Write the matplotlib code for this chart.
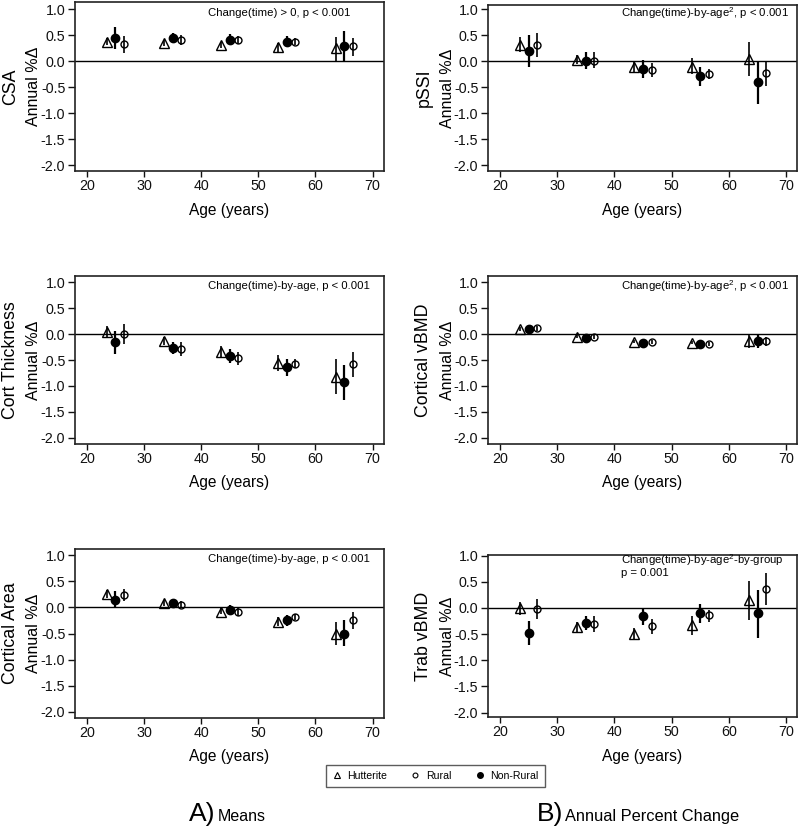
import matplotlib
matplotlib.use("Agg")
import matplotlib.pyplot as plt
from matplotlib.lines import Line2D

plt.rcParams['font.family'] = ['Liberation Sans', 'DejaVu Sans']
plt.rcParams['mathtext.fontset'] = 'custom'
plt.rcParams['mathtext.rm'] = 'Liberation Sans'
plt.rcParams['mathtext.it'] = 'Liberation Sans'

# ---------------- data ----------------
ages = [25, 35, 45, 55, 65]
groups = ['Hutterite', 'Rural', 'Non-Rural']
x_ticks = [20, 30, 40, 50, 60, 70]
y_ticks = [1.0, 0.5, 0.0, -0.5, -1.0, -1.5, -2.0]

panel_labels = ['CSA', 'pSSI', 'Cort Thickness', 'Cortical vBMD', 'Cortical Area', 'Trab vBMD']
panel_notes = ['Change(time) > 0, p < 0.001',
               'Change(time)-by-age$^2$, p < 0.001',
               'Change(time)-by-age, p < 0.001',
               'Change(time)-by-age$^2$, p < 0.001',
               'Change(time)-by-age, p < 0.001',
               'Change(time)-by-age$^2$-by-group\np = 0.001']

# CSA
csa_hut = [0.37, 0.34, 0.30, 0.27, 0.25]
csa_hut_lo = [0.30, 0.28, 0.25, 0.17, 0.00]
csa_hut_hi = [0.45, 0.40, 0.36, 0.34, 0.47]
csa_non = [0.45, 0.44, 0.41, 0.36, 0.29]
csa_non_lo = [0.23, 0.36, 0.32, 0.27, 0.00]
csa_non_hi = [0.66, 0.54, 0.52, 0.48, 0.58]
csa_rur = [0.33, 0.40, 0.41, 0.37, 0.28]
csa_rur_lo = [0.16, 0.30, 0.33, 0.30, 0.10]
csa_rur_hi = [0.48, 0.50, 0.49, 0.45, 0.45]

# pSSI
pssi_hut = [0.31, 0.03, -0.11, -0.11, 0.04]
pssi_hut_lo = [0.17, -0.05, -0.20, -0.24, -0.29]
pssi_hut_hi = [0.46, 0.12, -0.02, 0.05, 0.37]
pssi_non = [0.19, 0.01, -0.15, -0.29, -0.41]
pssi_non_lo = [-0.11, -0.15, -0.32, -0.47, -0.83]
pssi_non_hi = [0.50, 0.17, 0.02, -0.12, 0.00]
pssi_rur = [0.31, 0.01, -0.17, -0.25, -0.23]
pssi_rur_lo = [0.07, -0.13, -0.31, -0.34, -0.48]
pssi_rur_hi = [0.54, 0.17, -0.03, -0.16, 0.00]

# Cort Thickness
ct_hut = [0.04, -0.14, -0.34, -0.56, -0.82]
ct_hut_lo = [-0.08, -0.22, -0.44, -0.72, -1.16]
ct_hut_hi = [0.16, -0.06, -0.23, -0.40, -0.48]
ct_non = [-0.16, -0.26, -0.42, -0.64, -0.93]
ct_non_lo = [-0.38, -0.38, -0.55, -0.80, -1.27]
ct_non_hi = [0.06, -0.15, -0.29, -0.49, -0.59]
ct_rur = [0.00, -0.28, -0.47, -0.57, -0.58]
ct_rur_lo = [-0.19, -0.42, -0.60, -0.65, -0.83]
ct_rur_hi = [0.19, -0.15, -0.35, -0.49, -0.34]

# Cortical vBMD
cv_hut = [0.10, -0.05, -0.15, -0.17, -0.14]
cv_hut_lo = [0.06, -0.08, -0.18, -0.20, -0.26]
cv_hut_hi = [0.14, -0.02, -0.12, -0.14, -0.02]
cv_non = [0.10, -0.07, -0.17, -0.19, -0.13]
cv_non_lo = [0.03, -0.11, -0.21, -0.23, -0.27]
cv_non_hi = [0.17, -0.03, -0.13, -0.15, 0.01]
cv_rur = [0.11, -0.06, -0.16, -0.19, -0.14]
cv_rur_lo = [0.06, -0.10, -0.20, -0.23, -0.23]
cv_rur_hi = [0.16, -0.02, -0.12, -0.15, -0.05]

# Cortical Area
ca_hut = [0.25, 0.09, -0.08, -0.27, -0.50]
ca_hut_lo = [0.18, 0.03, -0.13, -0.35, -0.72]
ca_hut_hi = [0.33, 0.15, -0.02, -0.19, -0.28]
ca_non = [0.15, 0.08, -0.05, -0.24, -0.50]
ca_non_lo = [0.00, 0.00, -0.15, -0.36, -0.74]
ca_non_hi = [0.31, 0.17, 0.04, -0.14, -0.25]
ca_rur = [0.23, 0.05, -0.09, -0.19, -0.25]
ca_rur_lo = [0.12, -0.02, -0.16, -0.25, -0.41]
ca_rur_hi = [0.36, 0.12, -0.02, -0.12, -0.09]

# Trab vBMD
tv_hut = [0.00, -0.37, -0.49, -0.32, 0.16]
tv_hut_lo = [-0.14, -0.48, -0.62, -0.51, -0.23]
tv_hut_hi = [0.12, -0.27, -0.38, -0.16, 0.52]
tv_non = [-0.47, -0.28, -0.15, -0.10, -0.10]
tv_non_lo = [-0.71, -0.43, -0.33, -0.28, -0.57]
tv_non_hi = [-0.24, -0.15, 0.00, 0.08, 0.34]
tv_rur = [-0.02, -0.30, -0.35, -0.13, 0.37]
tv_rur_lo = [-0.22, -0.46, -0.49, -0.26, 0.05]
tv_rur_hi = [0.17, -0.16, -0.21, -0.03, 0.67]

panel_data = [
    [(csa_hut, csa_hut_lo, csa_hut_hi), (csa_non, csa_non_lo, csa_non_hi), (csa_rur, csa_rur_lo, csa_rur_hi)],
    [(pssi_hut, pssi_hut_lo, pssi_hut_hi), (pssi_non, pssi_non_lo, pssi_non_hi), (pssi_rur, pssi_rur_lo, pssi_rur_hi)],
    [(ct_hut, ct_hut_lo, ct_hut_hi), (ct_non, ct_non_lo, ct_non_hi), (ct_rur, ct_rur_lo, ct_rur_hi)],
    [(cv_hut, cv_hut_lo, cv_hut_hi), (cv_non, cv_non_lo, cv_non_hi), (cv_rur, cv_rur_lo, cv_rur_hi)],
    [(ca_hut, ca_hut_lo, ca_hut_hi), (ca_non, ca_non_lo, ca_non_hi), (ca_rur, ca_rur_lo, ca_rur_hi)],
    [(tv_hut, tv_hut_lo, tv_hut_hi), (tv_non, tv_non_lo, tv_non_hi), (tv_rur, tv_rur_lo, tv_rur_hi)],
]

# ---------------- layout ----------------
W, H = 800, 827
fig = plt.figure(figsize=(W / 100, H / 100), dpi=100)

# pixel boxes (x0, top, x1, bottom) and y-limits
boxes = [(75, 2, 384, 171), (488, 5, 797, 171),
         (75, 276, 384, 444), (488, 276, 797, 444),
         (75, 549, 384, 718), (488, 555, 797, 717)]
ylims = [(-2.115, 1.135), (-2.11, 1.077),
         (-2.12, 1.12), (-2.12, 1.12),
         (-2.12, 1.12), (-2.084, 1.013)]
xlims = [(17.95, 71.98), (17.9, 71.9)] * 3

offsets = [-1.5, 0.0, 1.5]  # Hutterite, Non-Rural, Rural
styles = [dict(marker='^', ms=7, mfc='none', mec='black', mew=1.0, elw=1.2),
          dict(marker='o', ms=6, mfc='black', mec='black', mew=1.0, elw=1.6),
          dict(marker='o', ms=5, mfc='none', mec='black', mew=1.0, elw=1.2)]

for i, (box, yl, xl) in enumerate(zip(boxes, ylims, xlims)):
    x0, top, x1, bot = box
    ax = fig.add_axes([x0 / W, 1 - bot / H, (x1 - x0) / W, (bot - top) / H])
    ax.set_xlim(*xl)
    ax.set_ylim(*yl)
    ax.axhline(0, color='black', lw=1.0, zorder=1)
    for (m, lo, hi), off, st in zip(panel_data[i], offsets, styles):
        xs = [a + off for a in ages]
        ax.vlines(xs, lo, hi, color='black', lw=st['elw'], zorder=2)
        ax.plot(xs, m, linestyle='none', marker=st['marker'], ms=st['ms'],
                mfc=st['mfc'], mec=st['mec'], mew=st['mew'], zorder=3)
    ax.set_xticks(x_ticks)
    ax.set_yticks(y_ticks)
    ax.set_yticklabels([f'{v:.1f}' for v in y_ticks])
    ax.tick_params(direction='out', length=4, width=1.0, labelsize=10.3, pad=2, colors='#111111')
    ax.tick_params(axis='y', length=5)
    for s in ax.spines.values():
        s.set_linewidth(1.2)
        s.set_color('#222222')
    for k, line in enumerate(panel_notes[i].split('\n')):
        ax.text(41.2, 0.92 - k * 0.25, line, fontsize=8.2, ha='left', va='center')
    # labels
    cy = 1 - (top + bot) / 2 / H
    fig.text((x0 - 41) / W, cy, 'Annual %\u0394', rotation=90, ha='center', va='center', fontsize=11.5)
    fig.text((x0 - 64) / W, cy, panel_labels[i], rotation=90, ha='center', va='center', fontsize=12.8)
    fig.text((x0 + x1) / 2 / W, 1 - (bot + 39) / H, 'Age (years)', ha='center', va='center', fontsize=11.2)

# legend
handles = [Line2D([], [], ls='none', marker='^', ms=4, mfc='none', mec='black', mew=0.8),
           Line2D([], [], ls='none', marker='o', ms=3.5, mfc='none', mec='black', mew=0.8),
           Line2D([], [], ls='none', marker='o', ms=4, mfc='black', mec='black')]
leg = fig.legend(handles, groups, loc='center', bbox_to_anchor=(435.5 / W, 1 - 776 / H), ncol=3,
                 frameon=True, fancybox=False, edgecolor='#333333', handlelength=0.8,
                 handletextpad=0.6, columnspacing=2.3, borderpad=0.6,
                 prop={'size': 7.6})
leg.get_frame().set_linewidth(1.0)

# panel titles
yb = 1 - 821 / H
fig.text(189 / W, yb, 'A)', fontsize=19, va='baseline')
fig.text(218 / W, yb, 'Means', fontsize=11.5, va='baseline')
fig.text(537 / W, yb, 'B)', fontsize=19, va='baseline')
fig.text(565 / W, yb, 'Annual Percent Change', fontsize=11.8, va='baseline')

fig.savefig('out.png', dpi=100)
